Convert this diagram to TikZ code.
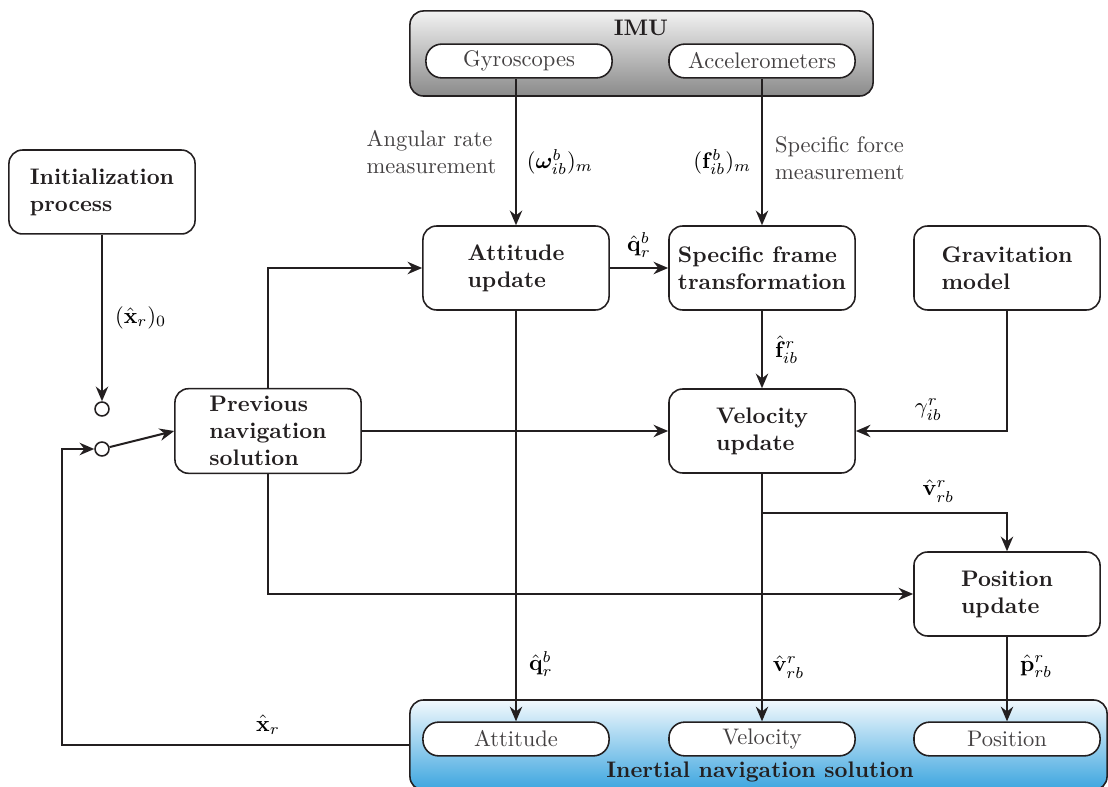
\documentclass[tikz,border=0pt]{standalone}
\usepackage{amsmath,amssymb,bm}
\usetikzlibrary{arrows.meta,positioning,calc}
\definecolor{ink}{HTML}{231F20}
\definecolor{imutop}{HTML}{F2F2F2}
\definecolor{imubot}{HTML}{8A8A8A}
\definecolor{instop}{HTML}{F2F9FD}
\definecolor{insbot}{HTML}{3CA5DF}

\begin{document}
\begin{tikzpicture}[x=0.4444pt, y=-0.4444pt, line width=0.9pt,
    >={Stealth[length=6.5pt,width=5.5pt]}]
  \tikzset{
    block/.style={draw=ink, line width=0.7pt, rounded corners=6pt, minimum width=82.7pt,
      minimum height=37.3pt, align=left, font=\bfseries, text=ink},
    pill/.style ={draw=ink, fill=white, line width=0.7pt, rounded corners=7pt,
      minimum width=82.7pt, minimum height=15pt, inner sep=1pt, text=ink!85},
    group/.style={draw=ink, line width=0.7pt, rounded corners=6pt},
    pin/.style  ={circle, draw=ink, fill=white, line width=0.7pt, minimum size=6.2pt, inner sep=0pt},
    flow/.style ={draw=ink, ->},
    lbl/.style  ={align=left, text=ink!85},
  }
  \useasboundingbox (0,0) rectangle (1108,787);

  % sensor unit and output group
  \node[group, top color=imutop, bottom color=imubot, minimum width=205.8pt, minimum height=37.8pt] (imu) at (641.5,53.5) {};
  \node[font=\bfseries, text=ink] (imut) at (641,28) {IMU};
  \node[pill] (gyro) at (519,61) {Gyroscopes};
  \node[pill] (acc)  at (762,61) {Accelerometers};

  \node[group, top color=instop, bottom color=insbot, minimum width=309.8pt, minimum height=40pt] (ins) at (758.5,745) {};
  \node[pill] (attp) at (516,739)  {Attitude};
  \node[pill] (velp) at (762,739)  {Velocity};
  \node[pill] (posp) at (1007,739) {Position};
  \node[font=\bfseries, text=ink] (inst) at (760,772) {Inertial navigation solution};

  % processing blocks
  \node[block] (init) at (102,192)  {Initialization\\process};
  \node[block] (prev) at (268,431)  {Previous\\navigation\\solution};
  \node[block] (att)  at (516,268)  {Attitude\\update};
  \node[block] (spec) at (762,268)  {Specific frame\\transformation};
  \node[block] (grav) at (1007,268) {Gravitation\\model};
  \node[block] (vel)  at (762,431)  {Velocity\\update};
  \node[block] (pos)  at (1007,594) {Position\\update};

  % switch
  \node[pin] (sw1) at (102,409) {};
  \node[pin] (sw2) at (102,449) {};
  \coordinate (fb) at (62,449);
  \coordinate (br) at (762,513);

  % connectors
  \draw[flow] (att.north |- gyro.south) -- (att.north)
    node[pos=0.5, left=5pt, lbl] {Angular rate\\measurement}
    node[pos=0.57, right=1pt] {$(\bm{\omega}^{b}_{ib})_{m}$};
  \draw[flow] (acc.south) -- (spec.north)
    node[pos=0.57, left=1pt] {$(\mathbf{f}^{b}_{ib})_{m}$}
    node[pos=0.54, right=2pt, lbl] {Specific force\\measurement};
  \draw[flow] (init.south) -- (sw1.north) node[midway, right=2pt] {$(\hat{\mathbf{x}}_{r})_{0}$};
  \draw[flow] (sw2) -- (prev.west);
  \draw[flow] (ins.west) -| (fb) -- (sw2.west);
  \node (xr) at (268,725) {$\hat{\mathbf{x}}_{r}$};

  \draw[flow] (prev.north) |- (att.west);
  \draw[flow] (prev.east) -- (vel.west);
  \draw[flow] (prev.south) |- (pos.west);

  \draw[flow] (att.east) -- (spec.west) node[midway, above=1pt] {$\hat{\mathbf{q}}^{b}_{r}$};
  \draw[flow] (att.south) -- (attp.north) node[pos=0.86, right=2pt] {$\hat{\mathbf{q}}^{b}_{r}$};
  \draw[flow] (spec.south) -- (vel.north) node[midway, right=2pt] {$\hat{\mathbf{f}}^{r}_{ib}$};
  \draw[flow] (grav.south) |- (vel.east) node[pos=0.76, above=1pt] {$\gamma^{r}_{ib}$};
  \draw[flow] (vel.south) -- (velp.north) node[pos=0.78, right=1pt] {$\hat{\mathbf{v}}^{r}_{rb}$};
  \draw[flow] (br) -| (pos.north) node[pos=0.36, above=1pt] {$\hat{\mathbf{v}}^{r}_{rb}$};
  \draw[flow] (pos.south) -- (posp.north) node[pos=0.35, right=2pt] {$\hat{\mathbf{p}}^{r}_{rb}$};
\end{tikzpicture}
\end{document}
